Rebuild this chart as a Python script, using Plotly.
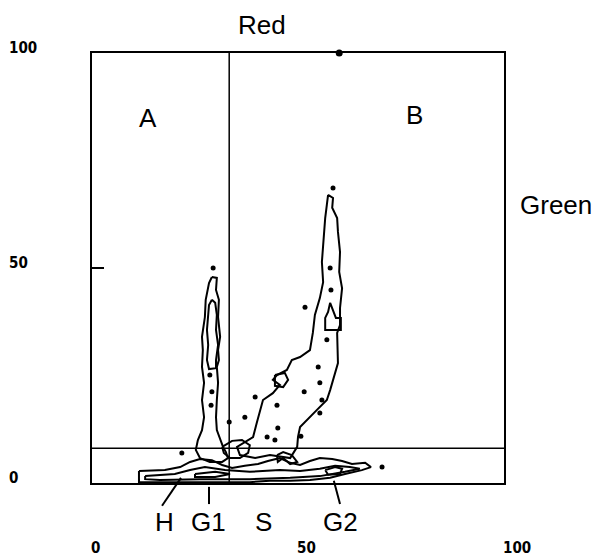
import plotly.graph_objects as go

# ---- axis / gate values ----
x_tick_vals = [0, 50, 100]
y_tick_vals = [0, 50, 100]
red_gate = 33.3      # vertical gate on Red axis
green_gate = 8.1     # horizontal gate on Green axis
top_dot_x = [60]
top_dot_y = [100]

# ---- contour outlines (Red, Green) ----
left_outer_x = [29.1, 30.3, 30.1, 30.8, 30.6, 31.1, 30.6, 30.8, 30.3, 30.6, 30.3, 30.1, 30.3, 31.1, 31.8, 32.5,
                33.0, 31.6, 28.6, 26.2, 25.2, 25.7, 26.7, 27.2, 26.7, 27.2, 26.7, 26.9, 26.7, 27.4, 27.6, 28.4, 29.1]
left_outer_y = [47.9, 47.7, 44.9, 42.6, 38.6, 34.0, 30.9, 28.6, 27.0, 23.3, 19.3, 15.3, 12.3, 10.0, 8.4, 7.2,
                5.8, 4.9, 4.9, 5.8, 7.7, 10.0, 12.3, 15.3, 19.3, 23.3, 27.0, 30.9, 34.0, 38.6, 42.6, 46.5, 47.9]

left_inner_x = [29.1, 29.9, 30.3, 30.1, 30.6, 30.1, 30.1, 28.4, 27.9, 28.2, 27.9, 28.2, 28.4, 29.1]
left_inner_y = [42.6, 41.9, 39.1, 35.6, 32.1, 28.6, 26.7, 26.5, 28.6, 32.1, 35.6, 39.1, 41.4, 42.6]

right_outer_x = [57.3, 58.5, 58.3, 59.5, 59.7, 60.2, 60.0, 60.7, 60.2, 60.2, 59.5, 59.7, 57.8, 57.0, 54.6, 52.2,
                 50.5, 50.0, 49.8, 48.1, 43.2, 39.6, 35.9, 35.2, 36.7, 39.1, 40.0, 40.8, 41.5, 43.9, 45.6, 43.9,
                 44.9, 47.3, 48.5, 50.5, 52.9, 53.6, 54.1, 55.3, 56.1, 55.8, 56.1, 56.6, 57.0, 57.3]
right_outer_y = [67.0, 66.3, 64.0, 61.6, 58.4, 53.7, 49.1, 45.3, 40.7, 36.7, 34.9, 27.9, 21.6, 19.3, 17.0, 14.7,
                 13.0, 10.7, 8.4, 5.8, 6.5, 5.8, 6.5, 8.4, 9.3, 10.7, 14.0, 17.0, 19.3, 20.9, 22.8, 24.0,
                 25.1, 26.3, 28.6, 29.3, 30.9, 34.9, 39.1, 43.0, 46.7, 51.4, 56.0, 61.6, 64.7, 67.0]

right_box_x = [57.8, 59.2, 60.4, 60.4, 56.6, 56.6, 57.3, 57.8]
right_box_y = [41.9, 38.4, 38.4, 35.6, 35.6, 38.4, 39.8, 41.9]

right_loop_x = [44.4, 46.8, 47.6, 46.4, 44.4, 44.4]
right_loop_y = [25.1, 25.6, 24.0, 22.3, 22.6, 25.1]

band_outer_x = [11.4, 17.7, 21.4, 23.8, 26.2, 29.1, 31.6, 34.0, 37.1, 40.3, 42.7, 45.6, 48.1, 50.5, 52.9, 55.3,
                58.3, 60.7, 63.1, 66.3, 67.7, 65.5, 61.4, 57.8, 52.9, 48.1, 43.2, 38.3, 33.5, 26.2, 18.9, 11.4, 11.4]
band_outer_y = [2.8, 3.0, 3.7, 4.9, 5.6, 5.3, 4.2, 3.5, 4.0, 4.4, 5.1, 5.8, 4.7, 4.2, 5.1, 5.8,
                5.6, 5.1, 4.4, 4.7, 3.7, 3.0, 2.1, 1.2, 0.7, 0.5, 0.5, 0.2, 0.2, 0.2, 0.2, 0.2, 2.8]

band_inner_x = [12.9, 20.1, 23.8, 27.4, 32.3, 38.3, 45.6, 50.5, 55.3, 59.0, 62.6, 65.0, 61.4, 55.3, 48.1, 38.3,
                26.2, 16.5, 12.9, 12.9]
band_inner_y = [1.6, 2.1, 3.0, 3.7, 3.0, 2.6, 3.0, 2.8, 3.3, 4.0, 3.7, 3.3, 2.6, 1.6, 1.2, 0.9,
                0.9, 0.7, 0.9, 1.6]

g2_core_x = [56.6, 59.0, 60.7, 60.2, 57.3, 56.6]
g2_core_y = [3.0, 3.7, 3.3, 2.1, 1.9, 3.0]

g1_core_x = [25.0, 29.9, 33.5, 29.9, 25.0, 25.0]
g1_core_y = [2.1, 2.6, 2.1, 1.4, 1.4, 2.1]

mid_loop_x = [31.6, 34.0, 36.4, 38.3, 37.9, 35.9, 33.5, 32.0, 31.6]
mid_loop_y = [8.4, 9.8, 10.0, 8.8, 7.0, 5.8, 5.8, 7.0, 8.4]

s_loop_x = [44.9, 46.4, 48.5, 49.8, 48.1, 46.4, 45.1, 44.9]
s_loop_y = [6.5, 7.2, 6.5, 4.9, 4.4, 5.8, 4.9, 6.5]

# isolated small islands
dot_x = [29.4, 28.6, 29.1, 28.9, 33.3, 21.8, 58.5, 57.8, 58.0, 57.0, 54.9, 55.3, 51.5, 55.3, 55.8,
         37.1, 39.6, 44.9, 51.7, 45.1, 42.5, 44.4, 50.7, 70.4]
dot_y = [50.0, 25.1, 21.2, 18.1, 14.2, 7.0, 68.6, 50.0, 44.9, 33.3, 27.0, 23.3, 21.2, 16.3, 19.3,
         15.3, 20.0, 18.1, 40.9, 12.8, 10.7, 10.0, 10.9, 3.7]

outlines = [
    (left_outer_x, left_outer_y), (left_inner_x, left_inner_y),
    (right_outer_x, right_outer_y), (right_box_x, right_box_y), (right_loop_x, right_loop_y),
    (band_outer_x, band_outer_y), (band_inner_x, band_inner_y),
    (g2_core_x, g2_core_y), (g1_core_x, g1_core_y),
    (mid_loop_x, mid_loop_y), (s_loop_x, s_loop_y),
]

# population labels under the axis
pop_labels = ["H", "G1", "S", "G2"]
pop_label_x = [17.7, 28.2, 41.7, 60.4]
pointer_x0 = [17.0, 28.4, None, 60.2]
pointer_x1 = [21.6, 28.4, None, 58.7]
pointer_y0 = [-0.053, -0.049, None, -0.049]
pointer_y1 = [0.012, -0.009, None, 0.005]

fig = go.Figure()
for xs, ys in outlines:
    fig.add_trace(go.Scatter(x=xs, y=ys, mode="lines",
                             line=dict(color="black", width=2), hoverinfo="skip"))
fig.add_trace(go.Scatter(x=dot_x, y=dot_y, mode="markers",
                         marker=dict(color="black", size=5, symbol="circle"), hoverinfo="skip"))
# gates
fig.add_trace(go.Scatter(x=[red_gate, red_gate], y=[0, 100], mode="lines",
                         line=dict(color="black", width=1.5), hoverinfo="skip"))
fig.add_trace(go.Scatter(x=[0, 100], y=[green_gate, green_gate], mode="lines",
                         line=dict(color="black", width=1.5), hoverinfo="skip"))
fig.add_trace(go.Scatter(x=top_dot_x, y=top_dot_y, mode="markers", cliponaxis=False,
                         marker=dict(color="black", size=7), hoverinfo="skip"))

big = dict(family="Liberation Sans, Arial, sans-serif", size=26, color="black")
num = dict(family="Liberation Sans Narrow, DejaVu Sans Condensed, sans-serif", size=15, color="black")

ann = []
ann.append(dict(text="Red", x=0.413, y=1.065, xref="paper", yref="paper", xanchor="center",
                yanchor="middle", showarrow=False, font=big))
ann.append(dict(text="Green", x=1.126, y=0.647, xref="paper", yref="paper", xanchor="center",
                yanchor="middle", showarrow=False, font=big))
ann.append(dict(text="A", x=13.6, y=84.9, xref="x", yref="y", xanchor="center", yanchor="middle",
                showarrow=False, font=big))
ann.append(dict(text="B", x=78.2, y=85.6, xref="x", yref="y", xanchor="center", yanchor="middle",
                showarrow=False, font=big))
for t, xv in zip(pop_labels, pop_label_x):
    ann.append(dict(text=t, x=xv, y=-0.091, xref="x", yref="paper", xanchor="center", yanchor="middle",
                    showarrow=False, font=big))
for v in x_tick_vals:
    ann.append(dict(text="<b>%d</b>" % v, x=v, y=-0.152, xref="x", yref="paper", xanchor="left",
                    yanchor="middle", xshift=-3, showarrow=False, font=num))
for v in y_tick_vals:
    ann.append(dict(text="<b>%d</b>" % v, x=0, y=v, xref="paper", yref="y", xanchor="left",
                    yanchor="middle", xshift=-85, yshift=5, showarrow=False, font=num))

shapes = []
for x0, x1, y0, y1 in zip(pointer_x0, pointer_x1, pointer_y0, pointer_y1):
    if x0 is None:
        continue
    shapes.append(dict(type="line", xref="x", yref="paper", x0=x0, x1=x1, y0=y0, y1=y1,
                       line=dict(color="black", width=2)))

fig.update_layout(
    width=597, height=558, showlegend=False,
    margin=dict(l=92, r=93, t=53, b=75),
    paper_bgcolor="white", plot_bgcolor="white",
    annotations=ann, shapes=shapes,
    xaxis=dict(range=[0, 100], showgrid=False, zeroline=False, showticklabels=False, ticks="",
               showline=True, mirror=True, linecolor="black", linewidth=2),
    yaxis=dict(range=[0, 100], showgrid=False, zeroline=False, showticklabels=False,
               tickvals=[50], ticks="inside", ticklen=12, tickwidth=1.5, tickcolor="black",
               showline=True, mirror=True, linecolor="black", linewidth=2),
)
fig.write_html("out.html")
